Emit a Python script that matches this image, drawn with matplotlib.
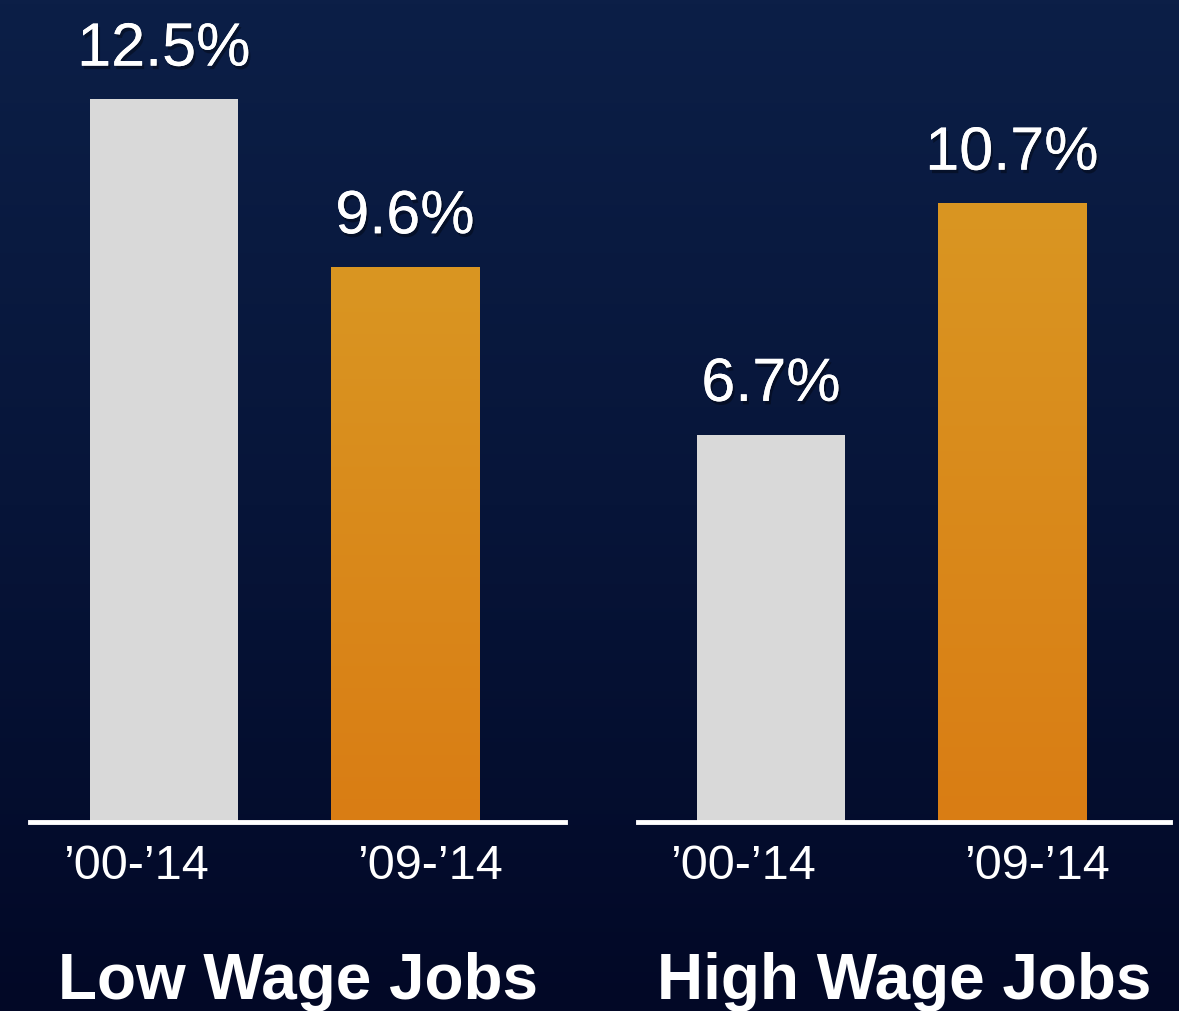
import numpy as np
import matplotlib
matplotlib.use("Agg")
import matplotlib.pyplot as plt
from matplotlib import patheffects as pe
from matplotlib.colors import LinearSegmentedColormap
from matplotlib.transforms import ScaledTranslation

# data
groups = ["Low Wage Jobs", "High Wage Jobs"]
periods = ["\u201900-\u201914", "\u201909-\u201914"]
low_wage = [12.5, 9.6]
high_wage = [6.7, 10.7]
values = [low_wage, high_wage]

plt.rcParams["font.family"] = ["Liberation Sans", "DejaVu Sans"]

W, H = 1179, 1011
fig = plt.figure(figsize=(W / 100, H / 100), dpi=100)

# background gradient, navy at top fading darker at bottom
bg = fig.add_axes([0, 0, 1, 1])
bg_cmap = LinearSegmentedColormap.from_list("bg", ["#0c1f47", "#071539", "#020826"])
grad = np.linspace(0, 1, 256).reshape(-1, 1)
bg.imshow(grad, cmap=bg_cmap, aspect="auto", extent=[0, 1, 0, 1])
bg.set_axis_off()

orange_cmap = LinearSegmentedColormap.from_list("orange", ["#d97d14", "#da9622"])
grey = "#d9d9d9"

shadow = [pe.withSimplePatchShadow(offset=(1.5, -2.5), shadow_rgbFace="black", alpha=0.35),
          pe.Normal()]

base_y = (H - 822) / H
ymax = 14.22
axes_px = [(30, 565), (638, 1170)]
xlims = [(-0.556, 1.664), (-0.552, 1.656)]
label_shift = [-28, 25]  # period labels sit a bit outside the bar centres

for gi, (name, vals) in enumerate(zip(groups, values)):
    x0, x1 = axes_px[gi]
    ax = fig.add_axes([x0 / W, base_y, (x1 - x0) / W, 1 - base_y])
    ax.patch.set_alpha(0)
    xs = np.arange(len(vals))
    bars = ax.bar(xs, vals, width=0.615, color=[grey, "none"], zorder=2)
    # orange bar gets a gentle vertical gradient
    ob = bars[1]
    img = ax.imshow(grad, cmap=orange_cmap, aspect="auto", origin="lower",
                    extent=[ob.get_x(), ob.get_x() + ob.get_width(), 0, ob.get_height()],
                    zorder=2)
    img.set_clip_path(ob)
    ax.set_xlim(*xlims[gi])
    ax.set_ylim(0, ymax)

    for b, v in zip(bars, vals):
        ax.text(b.get_x() + b.get_width() / 2, v + 0.36, f"{v}%",
                ha="center", va="bottom", color="white", fontsize=44,
                path_effects=shadow, zorder=3)

    ax.axhline(0, color="white", lw=3.5, zorder=4, clip_on=False)
    for s in ax.spines.values():
        s.set_visible(False)
    ax.set_yticks([])
    ax.set_xticks(xs)
    ax.set_xticklabels(periods, color="white", fontsize=35)
    ax.tick_params(axis="x", length=0, pad=16)
    for lab, dx in zip(ax.get_xticklabels(), label_shift):
        lab.set_transform(lab.get_transform() + ScaledTranslation(dx / 100, 0, fig.dpi_scale_trans))

    fig.text((x0 + x1) / 2 / W, (H - 982) / H, name, ha="center", va="center",
             color="white", fontsize=46, fontweight="bold")

fig.savefig("out.png", dpi=100)
